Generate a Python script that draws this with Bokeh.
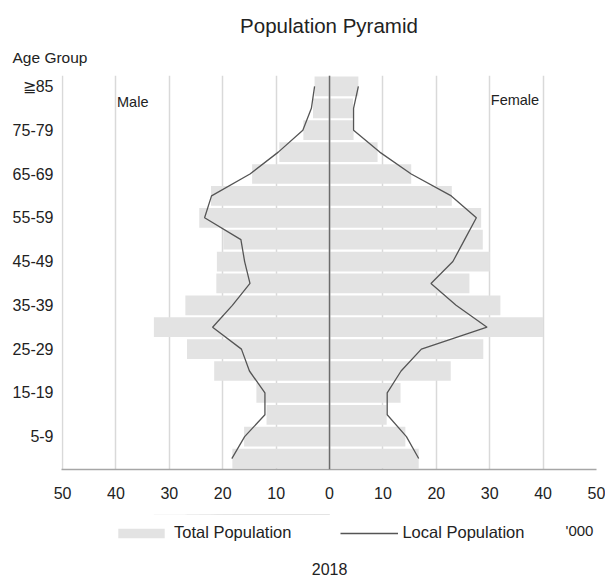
import numpy as np
from bokeh.plotting import figure
from bokeh.layouts import column
from bokeh.models import Label, Legend, LegendItem, FixedTicker, Span, Range1d, Title
from bokeh.embed import file_html
from bokeh.resources import INLINE

# ---- data ('000) ----
age_groups = ["0-4", "5-9", "10-14", "15-19", "20-24", "25-29", "30-34", "35-39",
              "40-44", "45-49", "50-54", "55-59", "60-64", "65-69", "70-74",
              "75-79", "80-84", "\u226785"]
male_total = [18.2, 16.0, 11.8, 13.7, 21.6, 26.7, 32.9, 27.0, 21.2, 21.1, 19.9,
              24.4, 22.2, 14.5, 9.4, 4.9, 3.1, 2.8]
male_local = [18.3, 15.9, 12.1, 12.1, 15.0, 16.5, 21.9, 18.2, 14.9, 15.9, 16.6,
              23.4, 22.1, 14.9, 9.6, 5.0, 3.4, 2.8]
female_total = [16.7, 14.2, 10.7, 13.3, 22.7, 28.8, 40.0, 32.0, 26.2, 30.0, 28.7,
                28.4, 22.9, 15.3, 9.0, 4.5, 4.4, 5.4]
female_local = [16.7, 14.4, 10.8, 10.8, 13.4, 17.2, 29.5, 23.7, 19.0, 23.1, 25.3,
                27.5, 22.8, 15.3, 9.4, 4.5, 4.5, 5.4]
x_ticks = [-50, -40, -30, -20, -10, 0, 10, 20, 30, 40, 50]
x_tick_labels = ["50", "40", "30", "20", "10", "0", "10", "20", "30", "40", "50"]
y_label_groups = ["5-9", "15-19", "25-29", "35-39", "45-49", "55-59", "65-69", "75-79", "\u226785"]

FONT = "Liberation Sans"
TXT = "#222222"
BAR = "#e3e3e3"
LINE = "#555555"
X0, X1 = -50.2, 50

ypos = np.arange(len(age_groups))

# ---- pyramid with titles above ----
p = figure(frame_width=535, frame_height=394, x_range=Range1d(X0, X1), y_range=(-0.5, 17.5),
           output_backend="svg", toolbar_location=None, title="Population Pyramid",
           min_border_left=61, min_border_right=9, min_border_top=75, min_border_bottom=45)
p.outline_line_color = None
p.title.align = "center"
p.title.text_font = FONT
p.title.text_font_size = "20.5px"
p.title.text_font_style = "normal"
p.title.text_color = TXT
p.title.standoff = 0
p.add_layout(Title(text="Age Group", align="left", offset=-49, standoff=20, text_font=FONT,
                   text_font_size="15.5px", text_font_style="normal", text_color=TXT), "above")

p.ygrid.grid_line_color = None
p.xgrid.grid_line_color = "#d9d9d9"
p.xgrid.grid_line_width = 1.5
p.xgrid.ticker = FixedTicker(ticks=x_ticks)

p.hbar(y=ypos, left=-np.array(male_total), right=0, height=0.9,
       fill_color=BAR, line_color=None)
p.hbar(y=ypos, left=0, right=np.array(female_total), height=0.9,
       fill_color=BAR, line_color=None)
p.add_layout(Span(location=0, dimension="height", line_color="#6b6b6b", line_width=1.5))
p.line(-np.array(male_local), ypos, line_color=LINE, line_width=1.3)
p.line(np.array(female_local), ypos, line_color=LINE, line_width=1.3)

p.xaxis.ticker = FixedTicker(ticks=x_ticks)
p.xaxis.major_label_overrides = {t: l for t, l in zip(x_ticks, x_tick_labels)}
p.xaxis.axis_line_color = "#a6a6a6"
p.xaxis.axis_line_width = 1.5
p.xaxis.major_tick_out = 0
p.xaxis.major_tick_in = 0
p.xaxis.minor_tick_out = 0
p.xaxis.minor_tick_in = 0
p.xaxis.major_label_standoff = 17
p.xaxis.major_label_text_font = FONT
p.xaxis.major_label_text_font_size = "16px"
p.xaxis.major_label_text_color = TXT

y_idx = [age_groups.index(g) for g in y_label_groups]
p.yaxis.ticker = FixedTicker(ticks=y_idx)
p.yaxis.major_label_overrides = {i: g for i, g in zip(y_idx, y_label_groups)}
p.yaxis.axis_line_color = None
p.yaxis.major_tick_out = 0
p.yaxis.major_tick_in = 0
p.yaxis.minor_tick_out = 0
p.yaxis.minor_tick_in = 0
p.yaxis.major_label_standoff = 8
p.yaxis.major_label_text_font = FONT
p.yaxis.major_label_text_font_size = "16px"
p.yaxis.major_label_text_color = TXT

p.add_layout(Label(x=-39.8, y=16.31, text="Male", text_font=FONT, text_font_size="14.5px",
                   text_color=TXT, text_baseline="middle"))
p.add_layout(Label(x=30.2, y=16.4, text="Female", text_font=FONT, text_font_size="14.5px",
                   text_color=TXT, text_baseline="middle"))

# ---- footer strip (frame aligned with the pyramid): legend, unit, year ----
FH = 64
pb = figure(width=605, height=FH, x_range=Range1d(X0, X1), y_range=Range1d(1000 + FH, 1000),
            x_axis_location=None, y_axis_location=None,
            min_border_left=61, min_border_right=9, min_border_top=0, min_border_bottom=0,
            toolbar_location=None, output_backend="svg", title=None)
pb.outline_line_color = None
pb.grid.visible = False
# legend swatches: same series, lying outside this strip's visible rows
sw_bar = pb.hbar(y=ypos, left=-np.array(male_total), right=0, height=0.9,
                 fill_color=BAR, line_color=None)
sw_line = pb.line(-np.array(male_local), ypos, line_color=LINE, line_width=1.3)
legend = Legend(items=[LegendItem(label="Total Population", renderers=[sw_bar]),
                       LegendItem(label="Local Population", renderers=[sw_line])],
                orientation="horizontal", location=(51, 36),
                glyph_width=58, glyph_height=12, label_height=18, label_standoff=4,
                spacing=49, padding=0, margin=0,
                background_fill_alpha=0, border_line_color=None,
                label_text_font=FONT, label_text_font_size="16.5px", label_text_color=TXT)
pb.add_layout(legend, "center")
pb.add_layout(Label(x=44.2, y=1016, text="'000", text_font=FONT, text_font_size="15px",
                    text_color=TXT, text_baseline="middle"))
pb.add_layout(Label(x=0, y=1054, text="2018", text_font=FONT, text_font_size="16px",
                    text_color=TXT, text_align="center", text_baseline="middle"))

open("out.html", "w").write(file_html(column(p, pb, spacing=0), INLINE))
